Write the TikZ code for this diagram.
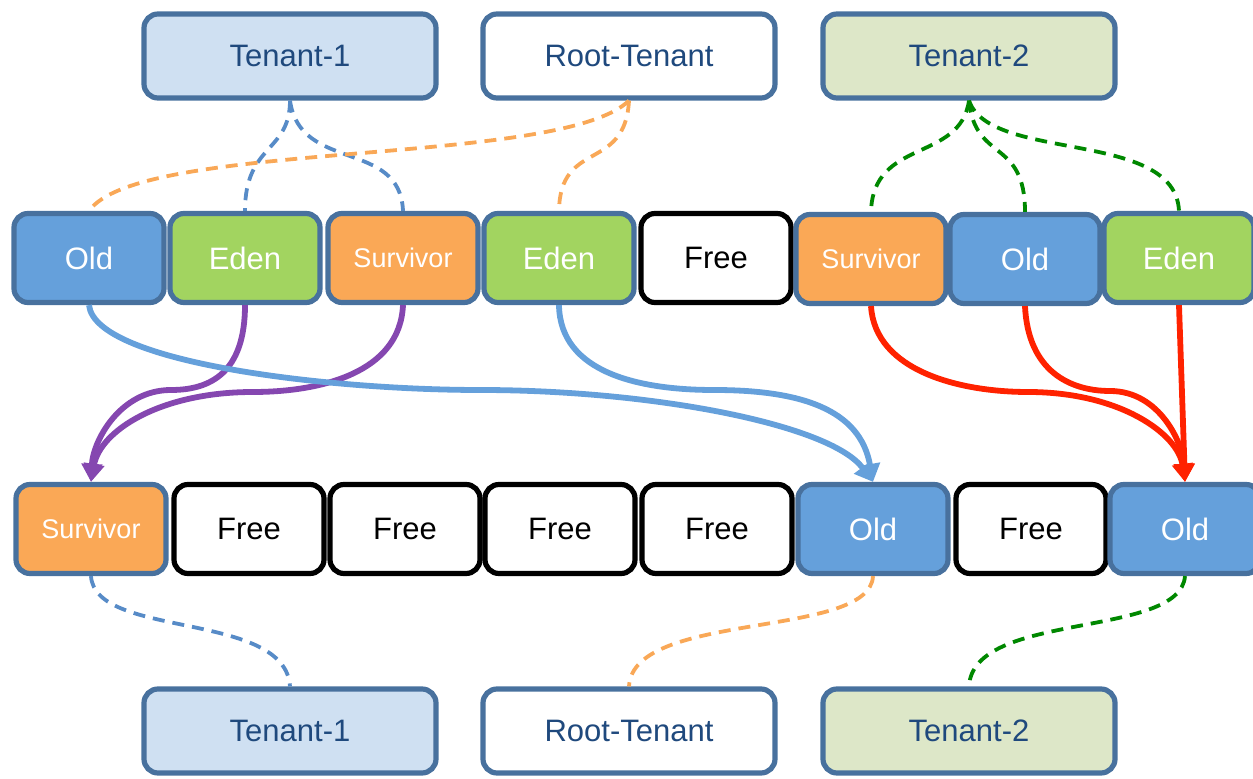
\documentclass[tikz,border=0pt]{standalone}
\usepackage{fontspec}
\setmainfont{Liberation Sans}
\usetikzlibrary{arrows.meta}
\definecolor{tframe}{RGB}{72,113,158}
\definecolor{ttext}{RGB}{31,73,125}
\definecolor{tone}{RGB}{207,224,242}
\definecolor{ttwo}{RGB}{221,231,200}
\definecolor{cold}{RGB}{101,160,219}
\definecolor{ceden}{RGB}{162,212,96}
\definecolor{csurv}{RGB}{250,168,86}
\definecolor{lblue}{RGB}{87,139,199}
\definecolor{lorange}{RGB}{249,168,87}
\definecolor{lgreen}{RGB}{0,136,0}
\definecolor{lred}{RGB}{255,34,0}
\definecolor{lpurple}{RGB}{133,71,176}
\tikzset{
  tenant/.style={draw=tframe, line width=2.6pt, rounded corners=7pt,
    minimum width=146pt, minimum height=42pt, text=ttext,
    font=\fontsize{15.5}{18}\selectfont},
  region/.style={draw=tframe, line width=2.6pt, rounded corners=7pt,
    minimum width=75pt, minimum height=44.5pt, text=white,
    font=\fontsize{15.5}{18}\selectfont},
  oldbox/.style={region, fill=cold},
  edenbox/.style={region, fill=ceden},
  survbox/.style={region, fill=csurv, font=\fontsize{13.5}{16}\selectfont},
  freebox/.style={region, draw=black, fill=white, text=black},
  owner/.style={line width=1.9pt, dash pattern=on 6pt off 4pt},
  move/.style={line width=2.9pt, -{Triangle[length=9pt,width=10pt]}}
}
\begin{document}
\begin{tikzpicture}[x=0.5pt,y=-0.5pt]
	\useasboundingbox (0,0) rectangle (1253,779);
	%%  Tenants  %%%%%%%%
	\node[tenant, fill=tone]  (t1top)   at (290,56)  {Tenant-1};
	\node[tenant, fill=white] (roottop) at (629,56)  {Root-Tenant};
	\node[tenant, fill=ttwo]  (t2top)   at (969,56)  {Tenant-2};
	\node[tenant, fill=tone]  (t1bot)   at (290,731) {Tenant-1};
	\node[tenant, fill=white] (rootbot) at (629,731) {Root-Tenant};
	\node[tenant, fill=ttwo]  (t2bot)   at (969,731) {Tenant-2};
	%%  Regions before GC  %%%%%%%%
	\node[oldbox]  (old1)  at (89,258)   {Old};
	\node[edenbox] (eden1) at (245,258)  {Eden};
	\node[survbox] (surv1) at (403,258)  {Survivor};
	\node[edenbox] (eden2) at (559,258)  {Eden};
	\node[freebox] (free1) at (716,258)  {Free};
	\node[survbox] (surv2) at (871,259)  {Survivor};
	\node[oldbox]  (old2)  at (1025,259) {Old};
	\node[edenbox] (eden3) at (1179,258) {Eden};
	%%  Regions after GC  %%%%%%%%
	\node[survbox] (surv3) at (91,529)   {Survivor};
	\node[freebox] (free2) at (249,529)  {Free};
	\node[freebox] (free3) at (405,529)  {Free};
	\node[freebox] (free4) at (560,529)  {Free};
	\node[freebox] (free5) at (717,529)  {Free};
	\node[oldbox]  (old3)  at (873,529)  {Old};
	\node[freebox] (free6) at (1031,529) {Free};
	\node[oldbox]  (old4)  at (1185,529) {Old};
	%%  Ownership (top)  %%%%%%%%
	\draw[owner, lblue] (t1top.south) .. controls +(0,52) and +(0,-67) .. (eden1.north);
	\draw[owner, lblue] (t1top.south) .. controls +(10,72) and +(-3,-72) .. (surv1.north);
	\draw[owner, lorange] (roottop.south) .. controls +(-69,67) and +(51,-72) .. (old1.north);
	\draw[owner, lorange] (roottop.south) .. controls +(-4,72) and +(1,-72) .. (eden2.north);
	\draw[owner, lgreen] (t2top.south) .. controls +(-9,62) and +(2,-74) .. (surv2.north);
	\draw[owner, lgreen] (t2top.south) .. controls +(6,62) and +(0,-74) .. (old2.north);
	\draw[owner, lgreen] (t2top.south) .. controls +(21,62) and +(-4,-82) .. (eden3.north);
	%%  Ownership (bottom)  %%%%%%%%
	\draw[owner, lblue] (surv3.south) .. controls +(4,63) and +(-5,-76) .. (t1bot.north);
	\draw[owner, lorange] (old3.south) .. controls +(-3,63) and +(4,-76) .. (rootbot.north);
	\draw[owner, lgreen] (old4.south) .. controls +(-5,63) and +(4,-76) .. (t2bot.north);
	%%  Copying  %%%%%%%%
	\draw[move, lpurple] (eden1.south) .. controls +(0,68) and +(39,0) .. (171,390)
		.. controls +(-51,0) and +(2,-41) .. (surv3.north);
	\draw[move, lpurple] (surv1.south) .. controls +(-3,68) and +(67,0) .. (253,392)
		.. controls +(-93,0) and +(9,-51) .. (surv3.north);
	\draw[move, cold] (old1.south) .. controls +(6,58) and +(-150,0) .. (480,390)
		.. controls +(170,0) and +(-43,-58) .. (old3.north);
	\draw[move, cold] (eden2.south) .. controls +(1,68) and +(-74,0) .. (714,390)
		.. controls +(86,0) and +(-13,-73) .. (old3.north);
	\draw[move, lred] (surv2.south) .. controls +(4,65) and +(-68,0) .. (1028,392)
		.. controls +(92,0) and +(-7,-48) .. (old4.north);
	\draw[move, lred] (old2.south) .. controls +(3,65) and +(-40,0) .. (1110,391)
		.. controls +(50,0) and +(-2,-38) .. (old4.north);
	\draw[move, lred] (eden3.south) -- (old4.north);
	%%%%%%%%%%%%%%%
\end{tikzpicture}
\end{document}
